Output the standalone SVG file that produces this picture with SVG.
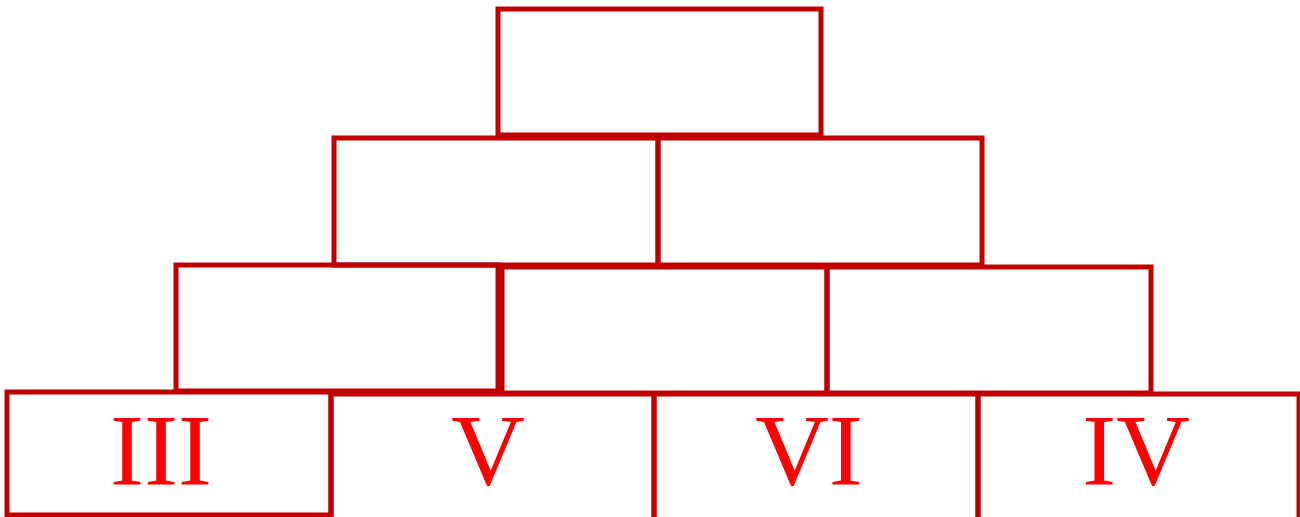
<svg xmlns="http://www.w3.org/2000/svg" width="1300" height="517" viewBox="0 0 1300 517">
  <style>
    .box { fill: none; stroke: #c00000; stroke-width: 5; }
    .lbl { fill: #ff0000; font-family: "Liberation Serif", "DejaVu Serif", serif; font-size: 102px; text-anchor: middle; }
  </style>
  <rect x="0" y="0" width="1300" height="517" fill="#ffffff"/>
  <g id="row1-top">
    <rect class="box" x="498" y="9" width="323" height="126"/>
  </g>
  <g id="row2-left">
    <rect class="box" x="334" y="138" width="324" height="127"/>
  </g>
  <g id="row2-right">
    <rect class="box" x="658" y="138" width="324" height="127"/>
  </g>
  <g id="row3-left">
    <rect class="box" x="176" y="265" width="322" height="126"/>
  </g>
  <g id="row3-middle">
    <rect class="box" x="502" y="267" width="325" height="126"/>
  </g>
  <g id="row3-right">
    <rect class="box" x="827" y="267" width="324" height="126"/>
  </g>
  <g id="node-III">
    <rect class="box" x="7" y="392" width="324" height="123"/>
    <text class="lbl" x="161" y="485">III</text>
  </g>
  <g id="node-V">
    <rect class="box" x="331" y="394" width="323" height="130"/>
    <text class="lbl" x="488" y="485">V</text>
  </g>
  <g id="node-VI">
    <rect class="box" x="654" y="394" width="324" height="130"/>
    <text class="lbl" x="809" y="485">VI</text>
  </g>
  <g id="node-IV">
    <rect class="box" x="978" y="394" width="321" height="130"/>
    <text class="lbl" x="1136" y="485">IV</text>
  </g>
</svg>
